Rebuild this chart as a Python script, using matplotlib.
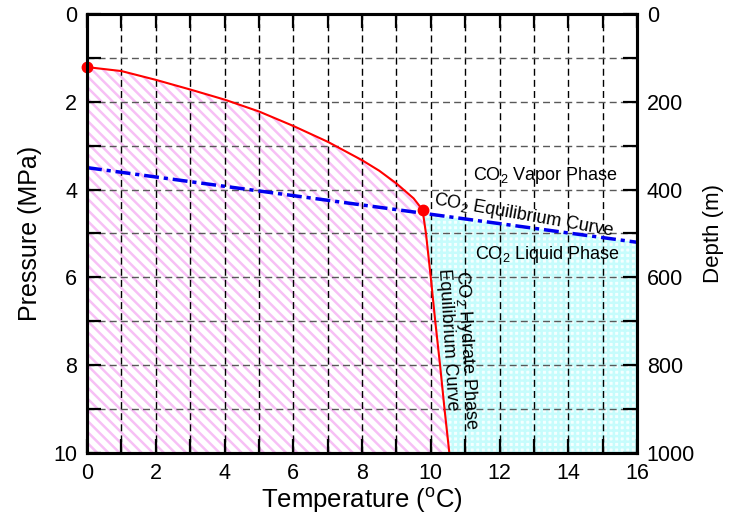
import numpy as np
import matplotlib as mpl
import matplotlib.pyplot as plt

mpl.rcParams['font.family'] = ['Liberation Sans', 'DejaVu Sans']
mpl.rcParams['mathtext.fontset'] = 'custom'
mpl.rcParams['mathtext.rm'] = 'Liberation Sans'
mpl.rcParams['mathtext.it'] = 'Liberation Sans:italic'
mpl.rcParams['hatch.linewidth'] = 1.8

# CO2 vapor / liquid boundary (red, upper part)
vaporT = [0.0, 1.0, 2.0, 3.0, 4.0, 5.0, 6.0, 7.0, 8.0, 8.5, 9.0, 9.5, 9.76]
vaporP = [1.21, 1.30, 1.50, 1.72, 1.95, 2.22, 2.55, 2.91, 3.33, 3.57, 3.86, 4.20, 4.46]

# CO2 hydrate phase equilibrium curve (red, nearly vertical)
hydT = [9.76, 9.86, 10.0, 10.13, 10.27, 10.4, 10.54]
hydP = [4.46, 5.0, 6.0, 7.0, 8.0, 9.0, 10.0]

# CO2 equilibrium curve (blue dash-dot)
eqT = [0.0, 16.0]
eqP = [3.5, 5.2]

xticks = [0, 2, 4, 6, 8, 10, 12, 14, 16]
yticks = [0, 2, 4, 6, 8, 10]
depthticks = [0, 200, 400, 600, 800, 1000]

fig = plt.figure(figsize=[7.38, 5.18], dpi=100)
ax = fig.add_axes([0.1179, 0.1255, 0.7453, 0.8475])

# pink hatched region (hydrate stable)
polyT = vaporT + hydT[1:] + [0.0]
polyP = vaporP + hydP[1:] + [10.0]
ax.fill(polyT, polyP, facecolor='white', edgecolor='#f7c0f5', hatch='\\\\\\',
        linewidth=0, zorder=0)

# cyan region (liquid phase)
eqAt = np.interp(hydT[0], eqT, eqP)
cyT = [hydT[0]] + hydT[1:] + [16.0, 16.0]
cyP = [eqAt] + hydP[1:] + [10.0, eqP[1]]
ax.fill(cyT, cyP, facecolor='#f4ffff', edgecolor='#c6fcfc', hatch='+++',
        linewidth=0, zorder=0)

# grid
for t in range(1, 16):
    ax.axvline(t, color='k', lw=1.0, ls=(0, (5, 3)), zorder=1)
for p in range(1, 10):
    ax.axhline(p, color='0.35', lw=1.0, ls=(0, (5, 3)), zorder=1)

ax.plot(vaporT, vaporP, color='red', lw=1.5, zorder=3)
ax.plot(hydT, hydP, color='red', lw=1.5, zorder=3)
ax.plot(eqT, eqP, color='#0000ee', lw=2.5, ls=(0, (4.3, 1.4, 1.2, 1.4)), zorder=3)
ax.plot([vaporT[0], vaporT[-1]], [vaporP[0], vaporP[-1]], 'o', color='red',
        ms=7.5, zorder=4, clip_on=False)

ax.set_xlim(0, 16)
ax.set_ylim(10, 0)
ax.set_xticks(xticks)
ax.set_yticks(yticks)
ax.set_xticks(range(17), minor=True)
ax.set_yticks(range(11), minor=True)
ax.tick_params(which='both', direction='in', length=10, width=1.6,
               top=True, labelsize=15.5, pad=7)
ax.tick_params(axis='y', which='both', right=False)
for s in ax.spines.values():
    s.set_linewidth(2.2)

ax.set_xlabel(r'Temperature ($^{\mathrm{o}}$C)', fontsize=18.5, labelpad=2)
ax.set_ylabel('Pressure (MPa)', fontsize=18, labelpad=8)

ax2 = ax.twinx()
ax2.set_ylim(1000, 0)
ax2.set_yticks(depthticks)
ax2.set_yticks(range(0, 1001, 100), minor=True)
ax2.tick_params(which='both', direction='in', length=10, width=1.6,
                labelsize=15.5, pad=7)
ax2.set_ylabel('Depth (m)', fontsize=16, labelpad=6)
for s in ax2.spines.values():
    s.set_linewidth(2.2)

ax.text(13.35, 3.67, r'CO$_2$ Vapor Phase', fontsize=13, ha='center', va='center', zorder=5)
ax.text(12.7, 4.58, r'CO$_2$ Equilibrium Curve', fontsize=13, ha='center', va='center',
        rotation=-10, rotation_mode='anchor', zorder=5)
ax.text(13.38, 5.49, r'CO$_2$ Liquid Phase', fontsize=13, ha='center', va='center', zorder=5)
ax.text(10.89, 5.83, r'CO$_2$ Hydrate Phase', fontsize=13, ha='left', va='center',
        rotation=-86.5, rotation_mode='anchor', zorder=5)
ax.text(10.36, 5.79, 'Equilibrium Curve', fontsize=13, ha='left', va='center',
        rotation=-86.5, rotation_mode='anchor', zorder=5)

fig.savefig('out.png', dpi=100)
